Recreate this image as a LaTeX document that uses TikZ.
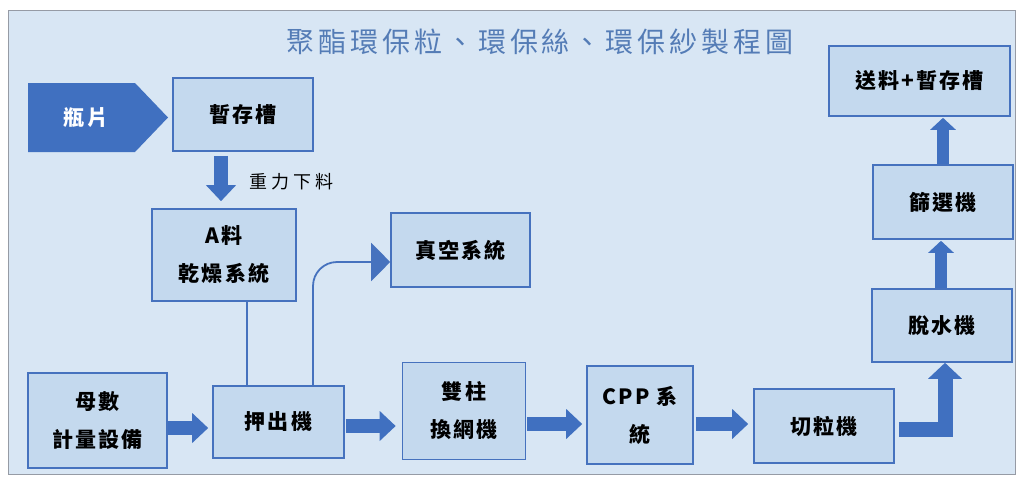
\documentclass[tikz,border=0pt]{standalone}
\usepackage{fontspec}
\setmainfont{Noto Sans CJK TC}
\newfontfamily\cjk{Noto Sans CJK TC}
\usetikzlibrary{arrows.meta}
\definecolor{bgblue}{RGB}{216,230,244}
\definecolor{boxfill}{RGB}{196,217,238}
\definecolor{boxline}{RGB}{70,114,190}
\definecolor{darkblue}{RGB}{64,112,192}
\definecolor{titleblue}{RGB}{84,124,182}
\definecolor{framegray}{RGB}{150,155,165}
\tikzset{
  box/.style={draw=boxline, line width=1.6pt, fill=boxfill, align=center, inner sep=0pt,
    font=\cjk\bfseries\fontsize{21}{38}\selectfont\addfontfeature{LetterSpace=10}},
  fatarrow/.style={draw=darkblue, line width=14pt, -{Triangle[width=29pt,length=16pt]}},
  uparrow/.style={draw=darkblue, line width=12pt, -{Triangle[width=25pt,length=12pt]}},
  elbowarrow/.style={draw=darkblue, line width=15pt, line join=miter, -{Triangle[width=33pt,length=16pt]}},
  thinline/.style={draw=boxline, line width=1.8pt},
}
\begin{document}
\begin{tikzpicture}[x=1pt,y=-1pt]
\useasboundingbox (0,0) rectangle (1019,479);
\fill[white] (0,0) rectangle (1019,479);
\draw[framegray, fill=bgblue, line width=1pt] (8,10) rectangle (1015,474);

\node[font=\cjk\fontsize{28}{30}\selectfont\addfontfeature{LetterSpace=14}, text=titleblue] (title) at (540,42) {聚酯環保粒、環保絲、環保紗製程圖};

% chevron 瓶片
\fill[darkblue] (28,83) -- (135,83) -- (168,117.5) -- (135,152) -- (28,152) -- cycle;
\node[text=white, font=\cjk\bfseries\fontsize{21}{24}\selectfont\addfontfeature{LetterSpace=10}] (bottle) at (86,117.5) {瓶片};

\node[box, minimum width=140pt, minimum height=73pt] (tank) at (243,114.5) {暫存槽};
\node[box, minimum width=144pt, minimum height=92pt] (dry) at (224,255) {A料\\乾燥系統};
\node[box, minimum width=139pt, minimum height=74pt] (vac) at (460.5,250) {真空系統};
\node[box, minimum width=139pt, minimum height=95pt] (meter) at (97.5,420.5) {母數\\計量設備};
\node[box, minimum width=131pt, minimum height=72pt] (ext) at (278.5,422) {押出機};
\node[box, minimum width=123pt, minimum height=97pt] (scr) at (464,411) {雙柱\\換網機};
\node[box, minimum width=106pt, minimum height=98pt] (cpp) at (640,415) {CPP 系\\統};
\node[box, minimum width=140pt, minimum height=74pt] (cut) at (824,426) {切粒機};
\node[box, minimum width=140pt, minimum height=73pt] (dew) at (942,325.5) {脫水機};
\node[box, minimum width=140pt, minimum height=74pt] (sieve) at (943,202) {篩選機};
\node[box, minimum width=181pt, minimum height=70pt] (feed) at (919.5,81) {送料+暫存槽};

\node[font=\cjk\fontsize{18}{20}\selectfont\addfontfeature{LetterSpace=22}, anchor=west] (grav) at (246,182) {重力下料};

% gravity feed arrow
\draw[fatarrow, shorten <=4pt, shorten >=7pt] ([xshift=-22pt]tank.south) -- ([xshift=-22pt]tank.south |- dry.north);

% thin lines
\draw[thinline] ([xshift=23pt]dry.south) -- ([xshift=23pt]dry.south |- ext.north);
\draw[thinline, rounded corners=24pt, -{Triangle[width=38pt,length=19pt]}]
  ([xshift=34.5pt]ext.north) |- ([yshift=-12pt]vac.west);

% main flow
\draw[fatarrow, shorten >=4pt] ([yshift=-7.5pt]meter.east) -- ([yshift=-7.5pt]meter.east -| ext.west);
\draw[fatarrow, shorten <=1pt, shorten >=6pt] ([yshift=-4pt]ext.east) -- ([yshift=-4pt]ext.east -| scr.west);
\draw[fatarrow, shorten <=1pt, shorten >=4pt] ([yshift=-9pt]cpp.west -| scr.east) -- ([yshift=-9pt]cpp.west);
\draw[fatarrow, shorten <=2pt, shorten >=5pt] ([yshift=-9pt]cpp.east) -- ([yshift=-9pt]cpp.east -| cut.west);
\draw[elbowarrow, shorten <=4pt] ([yshift=-3pt]cut.east) -| ([xshift=3pt]dew.south);
\draw[uparrow, shorten >=1pt] ([xshift=-1pt]dew.north) -- ([xshift=-1pt]dew.north |- sieve.south);
\draw[uparrow, shorten >=1pt] (sieve.north) -- (sieve.north |- feed.south);
\end{tikzpicture}
\end{document}
